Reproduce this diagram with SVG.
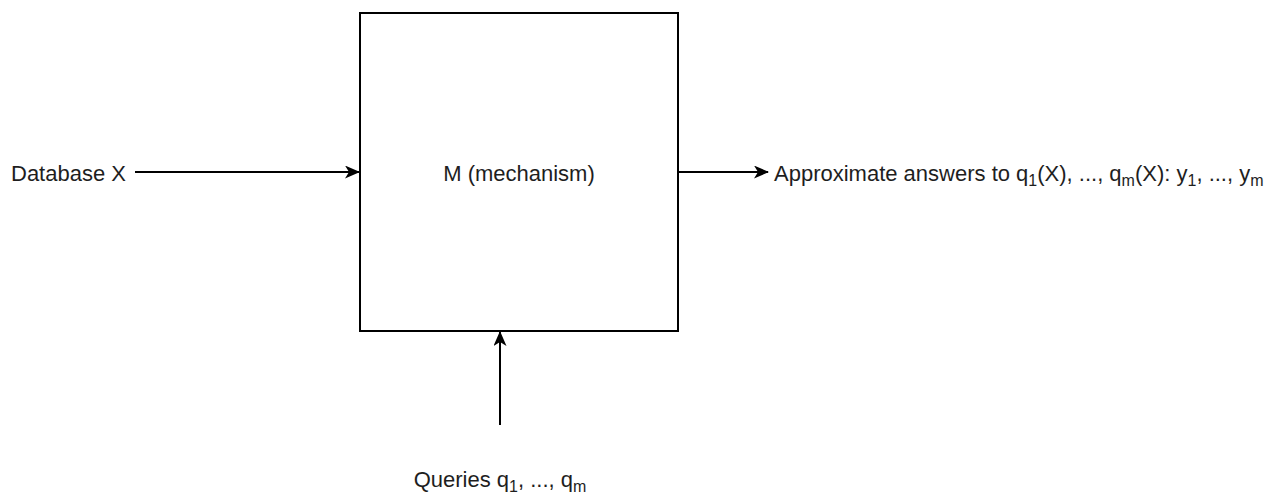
<svg xmlns="http://www.w3.org/2000/svg" width="1278" height="496" viewBox="0 0 1278 496">
<style>
text{font-family:"Liberation Sans",Arial,sans-serif;font-size:22px;fill:#1e1e1e}
.sub{font-size:16px}
.ln{stroke:#000;stroke-width:2;fill:none}
</style>
<defs>
<marker id="ah" markerWidth="15" markerHeight="13" refX="14" refY="6.5" orient="auto" markerUnits="userSpaceOnUse">
<path d="M0,0 L15,6.5 L0,13 L4,6.5 Z" fill="#000"/>
</marker>
</defs>
<rect width="1278" height="496" fill="#fff"/>
<g id="mechanism">
<rect x="360" y="13" width="318" height="318" fill="#fff" stroke="#000" stroke-width="2"/>
<text x="519" y="181" text-anchor="middle">M (mechanism)</text>
</g>
<g id="database">
<text x="11" y="181">Database X</text>
</g>
<g id="answers">
<text x="774" y="181">Approximate answers to q<tspan class="sub" dy="5">1</tspan><tspan dy="-5">(X), ..., q</tspan><tspan class="sub" dy="5">m</tspan><tspan dy="-5">(X): y</tspan><tspan class="sub" dy="5">1</tspan><tspan dy="-5">, ..., y</tspan><tspan class="sub" dy="5">m</tspan></text>
</g>
<g id="queries">
<text x="500" y="487" text-anchor="middle">Queries q<tspan class="sub" dy="5">1</tspan><tspan dy="-5">, ..., q</tspan><tspan class="sub" dy="5">m</tspan></text>
</g>
<g id="connectors">
<line class="ln" x1="135" y1="172" x2="359" y2="172" marker-end="url(#ah)"/>
<line class="ln" x1="679" y1="172" x2="768" y2="172" marker-end="url(#ah)"/>
<line class="ln" x1="500" y1="425" x2="500" y2="332" marker-end="url(#ah)"/>
</g>
</svg>
